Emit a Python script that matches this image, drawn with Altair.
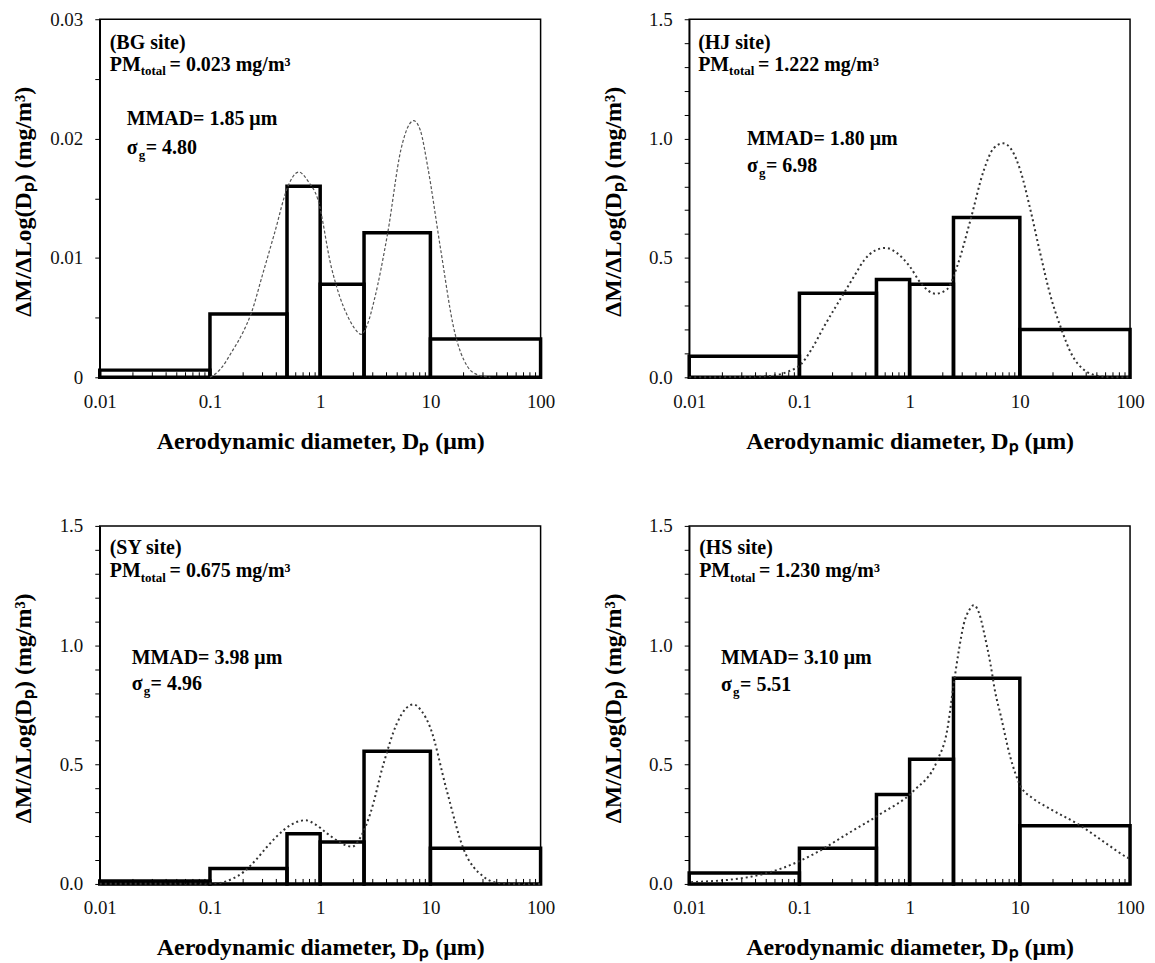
import altair as alt
import pandas as pd

# ---------------- data ----------------
bin_lo = [0.01, 0.1, 0.5, 1.0, 2.5, 10.0]
bin_hi = [0.1, 0.5, 1.0, 2.5, 10.0, 100.0]

bg_bars = [0.0006, 0.0053, 0.0160, 0.0078, 0.0121, 0.0032]
hj_bars = [0.088, 0.352, 0.410, 0.390, 0.669, 0.200]
sy_bars = [0.012, 0.065, 0.210, 0.176, 0.556, 0.150]
hs_bars = [0.046, 0.150, 0.375, 0.522, 0.862, 0.244]

bg_cx = [0.1, 0.125, 0.157, 0.2, 0.2375, 0.3, 0.386, 0.51, 0.637, 0.78, 0.953, 1.257,
         1.5, 1.78, 2.05, 2.35, 2.7, 3.1, 4.1, 5.41, 6.2, 7.05, 8.1, 9.43, 12.4, 16.4,
         21.7, 27.0, 35.0]
bg_cy = [0.0, 0.0007, 0.0021, 0.0038, 0.0054, 0.0086, 0.0121, 0.0160, 0.0172, 0.0164,
         0.0149, 0.0093, 0.0068, 0.0051, 0.0041, 0.0036, 0.0045, 0.0065, 0.0121, 0.0191,
         0.0209, 0.0215, 0.0207, 0.0177, 0.0107, 0.0040, 0.0009, 0.0002, 0.0]

hj_cx = [0.01, 0.04, 0.06, 0.08, 0.103, 0.13, 0.168, 0.21, 0.254, 0.32, 0.386, 0.48,
         0.607, 0.77, 1.0, 1.26, 1.72, 2.2, 2.7, 3.56, 4.71, 5.8, 7.05, 8.5, 10.1, 12.5,
         15.3, 19.0, 23.3, 30.0, 37.8, 50.0, 70.0, 100.0]
hj_cy = [0.0, 0.002, 0.008, 0.025, 0.054, 0.12, 0.214, 0.29, 0.353, 0.43, 0.49, 0.53,
         0.542, 0.52, 0.465, 0.395, 0.35, 0.37, 0.465, 0.658, 0.867, 0.96, 0.98, 0.95,
         0.867, 0.70, 0.52, 0.34, 0.214, 0.09, 0.033, 0.007, 0.0, 0.0]

sy_cx = [0.01, 0.08, 0.1165, 0.16, 0.203, 0.26, 0.33, 0.467, 0.6, 0.735, 0.9, 1.153,
         1.5, 1.94, 2.35, 2.85, 3.76, 4.95, 6.0, 7.02, 8.3, 9.94, 14.05, 19.9, 30.2,
         42.8, 60.0, 100.0]
sy_cy = [0.001, 0.001, 0.003, 0.022, 0.051, 0.10, 0.156, 0.226, 0.258, 0.267, 0.25, 0.212,
         0.175, 0.156, 0.2, 0.295, 0.504, 0.671, 0.735, 0.752, 0.725, 0.657, 0.393, 0.149,
         0.031, 0.003, 0.0, 0.0]

hs_cx = [0.0104, 0.034, 0.068, 0.136, 0.273, 0.547, 1.094, 1.78, 2.19, 2.5, 2.8, 3.1,
         3.5, 3.82, 4.3, 4.8, 5.41, 6.0, 6.66, 8.2, 10.1, 13.0, 17.6, 35.3, 61.5, 93.3,
         100.0]
hs_cy = [0.0075, 0.028, 0.064, 0.126, 0.21, 0.294, 0.391, 0.517, 0.643, 0.83, 0.98, 1.089,
         1.15, 1.168, 1.13, 1.04, 0.922, 0.80, 0.712, 0.531, 0.412, 0.36, 0.322, 0.245,
         0.168, 0.112, 0.105]

minor_ticks = [0.02, 0.03, 0.04, 0.05, 0.06, 0.07, 0.08, 0.09,
               0.2, 0.3, 0.4, 0.5, 0.6, 0.7, 0.8, 0.9,
               2, 3, 4, 5, 6, 7, 8, 9,
               20, 30, 40, 50, 60, 70, 80, 90]

sites = ["(BG site)", "(HJ site)", "(SY site)", "(HS site)"]
pm_totals = ["0.023", "1.222", "0.675", "1.230"]
mmads = ["1.85", "1.80", "3.98", "3.10"]
sigmas = ["4.80", "6.98", "4.96", "5.51"]
x_ticks = [0.01, 0.1, 1, 10, 100]

# ---------------- style ----------------
W, H = 442, 359
FONT = "Liberation Serif"
ONE = pd.DataFrame({"_": [0]})


def txt(s, x, y, size):
    return alt.Chart(ONE).mark_text(
        align="left", baseline="alphabetic", font=FONT, fontSize=size,
        fontWeight="bold", color="black"
    ).encode(x=alt.value(x), y=alt.value(y), text=alt.value(s))


def panel(i, bars, cx, cy, ymax, ystep, nlab, yfmt, pos, dash, ccolor, cwidth):
    xs = alt.Scale(type="log", domain=[0.01, 100], nice=False)
    ys = alt.Scale(domain=[0, ymax], nice=False, zero=True)
    nsteps = int(round(ymax / ystep))
    yvals = [round(k * ystep, 6) for k in range(nsteps + 1)]
    bdf = pd.DataFrame({"lo": bin_lo, "hi": bin_hi, "v": bars, "z": [0.0] * len(bars)})
    cdf = pd.DataFrame({"x": cx, "y": cy})
    tdf = pd.DataFrame({"t": minor_ticks})

    xaxis = alt.Axis(
        values=x_ticks, labelExpr="format(datum.value, '~g')", ticks=False, tickSize=0,
        labelPadding=15, labelFont=FONT, labelFontSize=19, labelColor="#111",
        labelFlush=False, labelOverlap=False, grid=False, domainColor="black",
        domainWidth=1.5, title="Aerodynamic diameter, Dₚ (μm)", titleFont=FONT,
        titleFontSize=24, titleFontWeight="bold", titleColor="black", titleY=64,
        titleBaseline="middle",
    )
    yaxis = alt.Axis(
        values=yvals,
        labelExpr=f"abs(datum.value*{nlab} - round(datum.value*{nlab})) < 1e-6 ? format(datum.value, '{yfmt}') : ''",
        tickSize=5, tickColor="black", tickWidth=1, labelPadding=12, labelFont=FONT,
        labelFontSize=19, labelColor="#111", labelOverlap=False, labelFlush=False,
        grid=False, domainColor="black", domainWidth=1.5,
        title="ΔM/ΔLog(Dₚ) (mg/m³)", titleFont=FONT, titleFontSize=24,
        titleFontWeight="bold", titleColor="black", titleAngle=270, titleX=-76,
        titleY=H / 2 + 3, titleBaseline="middle", titleAlign="center",
    )

    curve = alt.Chart(cdf).mark_line(
        color=ccolor, strokeWidth=cwidth, strokeDash=dash, interpolate="monotone"
    ).encode(
        x=alt.X("x:Q", scale=xs, axis=xaxis),
        y=alt.Y("y:Q", scale=ys, axis=yaxis),
    )
    rects = alt.Chart(bdf).mark_rect(
        fillOpacity=0, stroke="black", strokeWidth=3.5, strokeJoin="miter"
    ).encode(
        x=alt.X("lo:Q", scale=xs, axis=xaxis),
        x2="hi:Q",
        y=alt.Y("v:Q", scale=ys, axis=yaxis),
        y2="z:Q",
    )
    ticks = alt.Chart(tdf).mark_rule(color="black", strokeWidth=1).encode(
        x=alt.X("t:Q", scale=xs, axis=xaxis),
        y=alt.value(H),
        y2=alt.value(H - 5),
    )

    x0, ysite, ypm, mx, ymm, ysg = pos
    texts = [
        txt(sites[i], x0, ysite + 6.5, 20),
        txt("PM", x0, ypm + 6.5, 20),
        txt("total", x0 + 31, ypm + 11, 13),
        txt("= " + pm_totals[i] + " mg/m³", x0 + 60, ypm + 6.5, 20),
        txt("MMAD= " + mmads[i] + " μm", mx, ymm + 6.5, 20),
        txt("σ", mx, ysg + 6.5, 20),
        txt("g", mx + 12, ysg + 11.5, 13),
        txt("= " + sigmas[i], mx + 19, ysg + 6.5, 20),
    ]
    return alt.layer(rects, curve, ticks, *texts).properties(width=W, height=H)


p1 = panel(0, bg_bars, bg_cx, bg_cy, 0.03, 0.005, 100, "~g",
           (10, 23, 45, 27, 100, 129), [3, 2], "#555", 1.2)
p2 = panel(1, hj_bars, hj_cx, hj_cy, 1.5, 0.1, 2, ".1f",
           (9, 23, 45, 58, 120, 147), [2, 3], "#333", 2)
p3 = panel(2, sy_bars, sy_cx, sy_cy, 1.5, 0.1, 2, ".1f",
           (10, 22, 45, 32, 132, 158), [2, 3], "#333", 2)
p4 = panel(3, hs_bars, hs_cx, hs_cy, 1.5, 0.1, 2, ".1f",
           (10, 22, 45, 32, 132, 159), [2, 3], "#333", 2)

chart = alt.concat(p1, p2, p3, p4, columns=2, spacing=149, bounds="flush").properties(
    padding={"left": 3, "top": 0, "right": 2, "bottom": 0}
).configure(background="white").configure_view(
    stroke="black", strokeWidth=1.5
).configure_axis(labelFont=FONT, titleFont=FONT)

chart.save("out.html", embed_options={"renderer": "svg", "actions": False})
